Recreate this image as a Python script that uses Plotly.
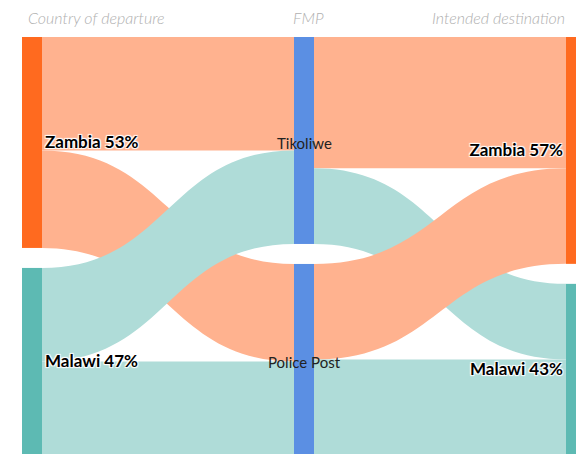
import plotly.graph_objects as go

# Nodi: paese di partenza, FMP, destinazione prevista
departure = ["Zambia", "Malawi"]
departure_pct = [53, 47]
fmp = ["Tikoliwe", "Police Post"]
destination = ["Zambia", "Malawi"]
destination_pct = [57, 43]

# Flussi (percentuali)
dep_to_fmp = [[28.5, 24.5],   # Zambia -> Tikoliwe, Police Post
              [23.5, 23.5]]   # Malawi -> Tikoliwe, Police Post
fmp_to_dest = [[33, 19],      # Tikoliwe -> Zambia, Malawi
               [24, 24]]      # Police Post -> Zambia, Malawi

headers = ["Country of departure", "FMP", "Intended destination"]

ORANGE, TEAL, BLUE = "#ff6a1f", "#5dbab3", "#5b8fe3"
ORANGE_L, TEAL_L = "#ffb28f", "#afdcd8"

labels = [f"{c} {p}%" for c, p in zip(departure, departure_pct)] + ["", ""] + \
         [f"{c} {p}%" for c, p in zip(destination, destination_pct)]
node_colors = [ORANGE, TEAL, BLUE, BLUE, ORANGE, TEAL]

src, tgt, val, lcol = [], [], [], []
for i in range(2):
    for j in range(2):
        src.append(i); tgt.append(2 + j); val.append(dep_to_fmp[i][j])
        lcol.append(ORANGE_L if i == 0 else TEAL_L)
for i in range(2):
    for j in range(2):
        src.append(2 + i); tgt.append(4 + j); val.append(fmp_to_dest[i][j])
        lcol.append(ORANGE_L if j == 0 else TEAL_L)

# il body ha 8px di margine; il nodo di destra esce un po' dal bordo come nell'originale
W, H = 578, 447
ML, MT = 14, 29
PAD = 20

fig = go.Figure(go.Sankey(
    arrangement="snap",
    node=dict(label=labels, color=node_colors, pad=PAD, thickness=20,
              line=dict(width=0)),
    link=dict(source=src, target=tgt, value=val, color=lcol),
    textfont=dict(family="Lato", size=17, color="#000000", weight="bold"),
))

# etichette FMP centrate sul nodo
plot_h = H - MT
fmp_tot = [sum(dep_to_fmp[i][j] for i in range(2)) for j in range(2)]
scale = (plot_h - PAD) / sum(fmp_tot)
top = 0
for j, name in enumerate(fmp):
    center_px = top + fmp_tot[j] * scale / 2
    fig.add_annotation(x=0.5, y=1 - center_px / plot_h, xref="paper", yref="paper",
                       xanchor="center", yanchor="middle",
                       text=name, showarrow=False, yshift=-3,
                       font=dict(family="Lato", size=15, color="#222222"))
    top += fmp_tot[j] * scale + PAD

# intestazioni colonne
hdr_font = dict(family="Lato", size=16, color="#b0b0b0", style="italic", weight=300)
fig.add_annotation(x=0, y=1, xref="paper", yref="paper", xanchor="left", yanchor="middle",
                   xshift=4, yshift=20, text=headers[0], showarrow=False, font=hdr_font)
fig.add_annotation(x=0.5, y=1, xref="paper", yref="paper", xanchor="center", yanchor="middle",
                   xshift=4, yshift=20, text=headers[1], showarrow=False, font=hdr_font)
fig.add_annotation(x=1, y=1, xref="paper", yref="paper", xanchor="right", yanchor="middle",
                   xshift=-19, yshift=20, text=headers[2], showarrow=False, font=hdr_font)

fig.update_layout(width=W, height=H, margin=dict(l=ML, r=0, t=MT, b=0),
                  paper_bgcolor="white", font=dict(family="Lato"))

fig.write_html("out.html")
